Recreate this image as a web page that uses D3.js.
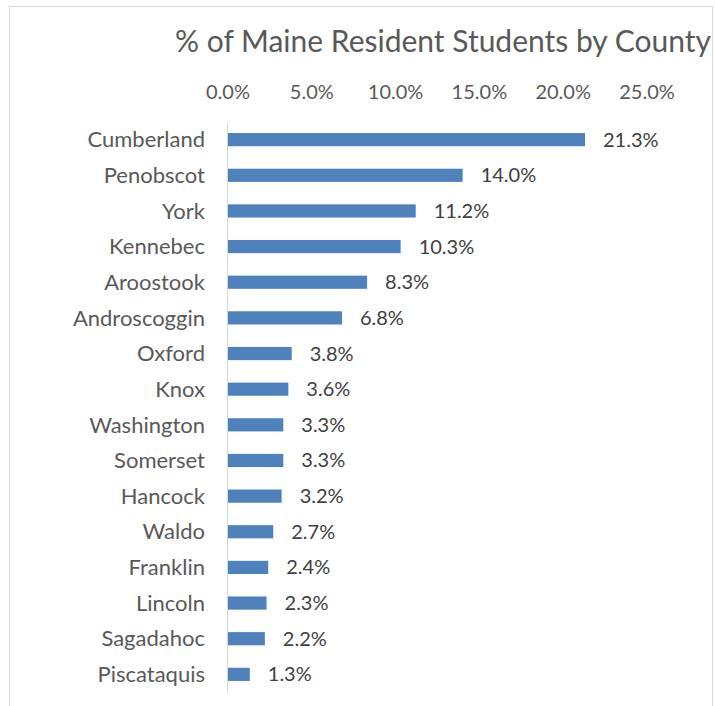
<!DOCTYPE html>
<html>
<head>
<meta charset="utf-8">
<script src="https://cdn.jsdelivr.net/npm/d3@7"></script>
<style>
body { margin: 0; background: #fff; }
text { font-family: Lato, "Open Sans", sans-serif; }
</style>
</head>
<body>
<script>
var counties = ['Cumberland', 'Penobscot', 'York', 'Kennebec', 'Aroostook', 'Androscoggin', 'Oxford', 'Knox',
    'Washington', 'Somerset', 'Hancock', 'Waldo', 'Franklin', 'Lincoln', 'Sagadahoc', 'Piscataquis'];
var shares = [21.3, 14.0, 11.2, 10.3, 8.3, 6.8, 3.8, 3.6, 3.3, 3.3, 3.2, 2.7, 2.4, 2.3, 2.2, 1.3];
var ticks = [0, 5, 10, 15, 20, 25];
var title = '% of Maine Resident Students by County';

var width = 715, height = 706;
var svg = d3.select('body').append('svg').attr('width', width).attr('height', height);

// chart frame
svg.append('rect').attr('x', 9.5).attr('y', 6.5).attr('width', 703).attr('height', 720)
    .attr('fill', 'none').attr('stroke', '#d9d9d9').attr('stroke-width', 1);

svg.append('text').attr('x', 443).attr('y', 52).attr('text-anchor', 'middle')
    .attr('font-size', 30).attr('fill', '#595959').text(title);

var x = d3.scaleLinear().domain([0, 25]).range([228, 647]);
var y = d3.scaleBand().domain(counties).range([122, 692]).paddingInner(0.63).paddingOuter(0.31);

var data = counties.map(function(c, i){ return {name: c, value: shares[i]}; });

// top axis labels
svg.append('g').selectAll('text').data(ticks).enter().append('text')
    .attr('x', function(d){ return x(d); })
    .attr('y', 99)
    .attr('text-anchor', 'middle')
    .attr('font-size', 20)
    .attr('fill', '#595959')
    .text(function(d){ return d.toFixed(1) + '%'; });

// bars
svg.append('g').selectAll('rect').data(data).enter().append('rect')
    .attr('x', x(0))
    .attr('y', function(d){ return y(d.name); })
    .attr('width', function(d){ return x(d.value) - x(0); })
    .attr('height', y.bandwidth())
    .attr('fill', '#4f81bd');

// category axis line
svg.append('line').attr('x1', x(0) - 0.5).attr('x2', x(0) - 0.5).attr('y1', 122).attr('y2', 692)
    .attr('stroke', '#d9d9d9').attr('stroke-width', 1);

// category labels
svg.append('g').selectAll('text').data(data).enter().append('text')
    .attr('x', 205)
    .attr('y', function(d){ return y(d.name) + y.bandwidth() / 2; })
    .attr('dy', '0.35em')
    .attr('text-anchor', 'end')
    .attr('font-size', 22)
    .attr('fill', '#595959')
    .text(function(d){ return d.name; });

// value labels
svg.append('g').selectAll('text').data(data).enter().append('text')
    .attr('x', function(d){ return x(d.value) + 18; })
    .attr('y', function(d){ return y(d.name) + y.bandwidth() / 2; })
    .attr('dy', '0.35em')
    .attr('font-size', 20)
    .attr('fill', '#404040')
    .text(function(d){ return d.value.toFixed(1) + '%'; });
</script>
</body>
</html>
